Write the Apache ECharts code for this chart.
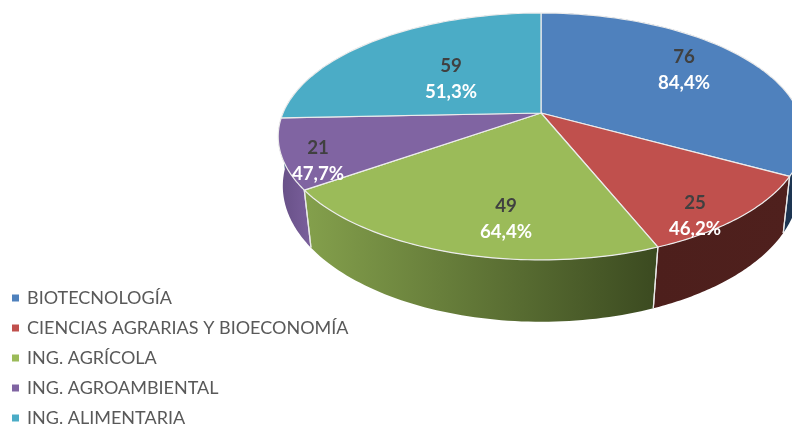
<!DOCTYPE html>
<html>
<head>
<meta charset="utf-8">
<style>html,body{margin:0;padding:0;background:#fff;overflow:hidden}#c{width:792px;height:425px}</style>
<script src="https://cdn.jsdelivr.net/npm/echarts@6/dist/echarts.min.js"></script>
</head>
<body>
<div id="c"></div>
<script>
const categories = ["BIOTECNOLOGÍA", "CIENCIAS AGRARIAS Y BIOECONOMÍA", "ING. AGRÍCOLA", "ING. AGROAMBIENTAL", "ING. ALIMENTARIA"];
const values = [76, 25, 49, 21, 59];
const percents = ["84,4%", "46,2%", "64,4%", "47,7%", "51,3%"];

const topColors = ["#4f81bd", "#c0504d", "#9bbb59", "#8064a2", "#4bacc6"];
const sideColors = [["#1d3552", "#1d3552"], ["#4f201d", "#4d1f1c"], ["#84a04c", "#3b4a20"], ["#7a5f9c", "#664f85"], ["#2f7085", "#2f7085"]];
const labelPos = [[684, 70], [695, 216], [506, 219], [318, 161], [451, 79]];

// Perspective projection of the pie disc (top face and bottom face)
const CX = 541, TOPY = 113, A = 258, B = 119, K = 0.19;
const BOTY = 163.5, A2 = 254.6, B2 = 132, K2 = 0.166;
const total = values.reduce((a, b) => a + b, 0);
const starts = [];
values.reduce((acc, v, i) => { starts[i] = acc; return acc + v; }, 0);
const angle = c => c / total * Math.PI * 2;
function topPt(a) {
  const u = Math.sin(a), v = -Math.cos(a), d = 1 - K * v;
  return [CX + A * u / d, TOPY + B * v / d];
}
function botPt(a) {
  const u = Math.sin(a), v = -Math.cos(a), d = 1 - K2 * v;
  return [CX + A2 * u / d, BOTY + B2 * v / d];
}

function renderSlice(params, api) {
  const i = params.seriesIndex;
  const a0 = angle(starts[i]);
  const a1 = angle(starts[i] + api.value(0));
  const n = 60;
  const topArc = [], botArc = [];
  for (let s = 0; s <= n; s++) {
    const a = a0 + (a1 - a0) * s / n;
    topArc.push(topPt(a));
    botArc.push(botPt(a));
  }
  const xs = topArc.concat(botArc).map(p => p[0]);
  const grad = new echarts.graphic.LinearGradient(Math.min(...xs), 0, Math.max(...xs), 0, [
    { offset: 0, color: i === 2 ? sideColors[i][0] : sideColors[i][1] },
    { offset: 1, color: i === 2 ? sideColors[i][1] : sideColors[i][0] }
  ], true);
  const children = [];
  children.push({
    type: "polygon", z2: 1, silent: true,
    shape: { points: topArc.concat(botArc.slice().reverse()) },
    style: { fill: grad }
  });
  [a0, a1].forEach(a => {
    if (-Math.cos(a) > 0.05) {
      const t = topPt(a), b = botPt(a);
      children.push({
        type: "line", z2: 2, silent: true,
        shape: { x1: t[0], y1: t[1], x2: b[0], y2: b[1] },
        style: { stroke: "#e8e8e8", lineWidth: 1.2 }
      });
    }
  });
  children.push({
    type: "polygon", z2: 5, silent: true,
    shape: { points: [[CX, TOPY]].concat(topArc) },
    style: { fill: topColors[i], stroke: "#ececec", lineWidth: 1.2, lineJoin: "round" }
  });
  const lp = labelPos[i];
  children.push({
    type: "text", z2: 10, silent: true,
    style: { x: lp[0], y: lp[1] - 13, text: String(api.value(0)), fill: "#404040",
      font: "bold 18.7px Lato", align: "center", verticalAlign: "middle" }
  });
  children.push({
    type: "text", z2: 10, silent: true,
    style: { x: lp[0], y: lp[1] + 13, text: percents[i], fill: "#ffffff",
      font: "bold 18.7px Lato", align: "center", verticalAlign: "middle" }
  });
  return { type: "group", children };
}

const chart = echarts.init(document.getElementById("c"), null, { renderer: "canvas" });
chart.setOption({
  animation: false,
  backgroundColor: "#ffffff",
  legend: {
    orient: "vertical", left: 12, top: 289, height: 200,
    padding: 0, itemGap: 12, itemWidth: 7, itemHeight: 7,
    icon: "rect",
    selectedMode: false,
    data: categories,
    textStyle: { fontFamily: "Lato", fontSize: 18, color: "#595959", lineHeight: 18, padding: [0, 0, 0, 3] }
  },
  series: categories.map((name, i) => ({
    type: "custom",
    name,
    coordinateSystem: "none",
    silent: true,
    itemStyle: { color: topColors[i] },
    data: [[values[i]]],
    renderItem: renderSlice
  }))
});
</script>
</body>
</html>
